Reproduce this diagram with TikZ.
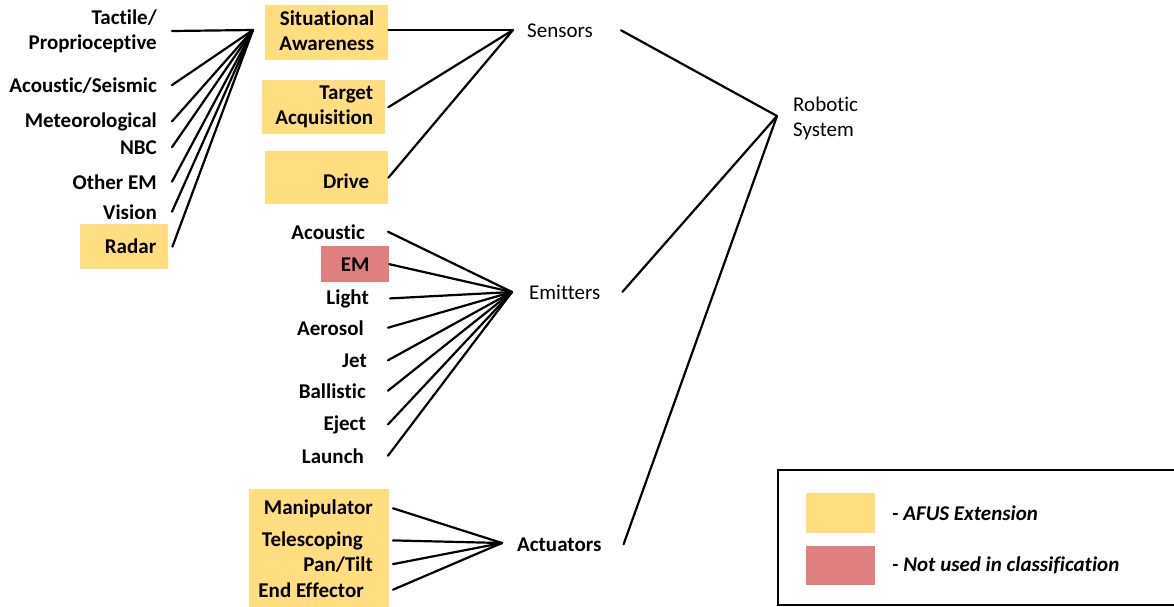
\documentclass[tikz,border=0pt]{standalone}
\usepackage{fontspec}
\setmainfont{Carlito}[Ligatures=NoCommon]
\definecolor{afus}{HTML}{FFDE80}
\definecolor{unused}{HTML}{DF7F7F}
\begin{document}
\begin{tikzpicture}[x=1pt,y=-1pt,
  txt/.style={inner sep=0pt, font=\bfseries\fontsize{21}{25}\selectfont},
  lbl/.style={txt, anchor=base east},
  head/.style={inner sep=0pt, font=\fontsize{21}{25}\selectfont, anchor=base west},
  tagbox/.style={txt, fill=afus, anchor=north west, align=right},
  swatch/.style={inner sep=0pt, anchor=north west, minimum width=69pt},
  legtxt/.style={inner sep=0pt, anchor=base west, font=\bfseries\itshape\fontsize{21}{25}\selectfont},
  conn/.style={line width=2.2pt, line cap=round},
]
\useasboundingbox (0,0) rectangle (1174,606);
\clip (0,0) rectangle (1174,606);

% junction points
\coordinate (hubL) at (253,30);
\coordinate (hubS) at (513,30);
\coordinate (hubE) at (512,292);
\coordinate (hubA) at (502,543);
\coordinate (hubR) at (777,116);

% sensing modalities
\node[lbl, align=right, anchor=east] (tac) at (157,31) {Tactile/\\Proprioceptive};
\node[lbl] (aco) at (157,92) {Acoustic/Seismic};
\node[lbl] (met) at (157,127) {Meteorological};
\node[lbl] (nbc) at (157,154) {NBC};
\node[lbl] (oem) at (157,189) {Other EM};
\node[lbl] (vis) at (157,219) {Vision};
\node[tagbox, minimum height=45pt, inner xsep=12pt, text width=64pt] (rad) at (80,224) {Radar};

\foreach \n/\s in {tac/15,aco/15,met/15,nbc/15,oem/15,vis/15,rad/4}
  \draw[conn] ([xshift=\s pt]\n.east) -- (hubL);

% sensor roles
\node[tagbox, minimum height=55pt, inner xsep=14pt, text width=95pt] (sa) at (265,5) {Situational\\Awareness\rule[-5pt]{0pt}{0pt}};
\node[tagbox, minimum height=54pt, inner xsep=12pt, text width=99pt] (ta) at (262,80) {Target\\Acquisition};
\node[tagbox, minimum height=53pt, inner xsep=19pt, text width=85pt] (drv) at (265,151) {\rule{0pt}{21pt}Drive};

\draw[conn] (sa.east |- hubL) -- (hubS);
\draw[conn] ([xshift=3pt]ta.east) -- (hubS);
\draw[conn] (drv.east) -- (hubS);

\node[head] (sen) at (527,37) {Sensors};

% emitters
\node[lbl] (eac) at (365,239) {Acoustic};
\node[txt, fill=unused, anchor=north west, minimum width=68pt, minimum height=36pt] (em) at (321,246) {EM};
\node[lbl] (lig) at (369,304) {Light};
\node[lbl] (aer) at (364,335) {Aerosol};
\node[lbl] (jet) at (367,367) {Jet};
\node[lbl] (bal) at (366,398) {Ballistic};
\node[lbl] (eje) at (366,430) {Eject};
\node[lbl] (lau) at (364,463) {Launch};

\foreach \n/\s in {eac/23,em/0,lig/21,aer/24,jet/21,bal/22,eje/22,lau/24}
  \draw[conn] ([xshift=\s pt]\n.east) -- (hubE);

\node[head] (emi) at (529,299) {Emitters};

% actuators
\node[fill=afus, inner sep=0pt, anchor=north west, minimum width=140pt, minimum height=120pt] (actbox) at (249,489) {};
\node[lbl] (man) at (373,514) {Manipulator};
\node[lbl] (tel) at (363,546) {Telescoping};
\node[lbl] (pan) at (373,571) {Pan/Tilt};
\node[lbl] (end) at (364,597) {End Effector};

\foreach \n/\s in {man/20,tel/30,pan/20,end/29}
  \draw[conn] ([xshift=\s pt]\n.east) -- (hubA);

\node[txt, anchor=base west] (act) at (517,551) {Actuators};

% top level
\node[head, anchor=west, align=left] (rob) at (793,118) {Robotic\\System};
\draw[conn] ([xshift=28pt]sen.east) -- (hubR);
\draw[conn] ([xshift=22pt]emi.east) -- (hubR);
\draw[conn] ([xshift=22pt]act.east) -- (hubR);

% legend
\node[draw, line width=2pt, inner sep=0pt, anchor=north west, minimum width=420pt, minimum height=135pt] (leg) at (777,469) {};
\node[swatch, fill=afus, minimum height=40pt] (swy) at (806,493) {};
\node[swatch, fill=unused, minimum height=39pt] (swr) at (806,546) {};
\node[legtxt] (ly) at (892,520) {- AFUS Extension};
\node[legtxt] (lr) at (892,571) {- Not used in classification};
\end{tikzpicture}
\end{document}
